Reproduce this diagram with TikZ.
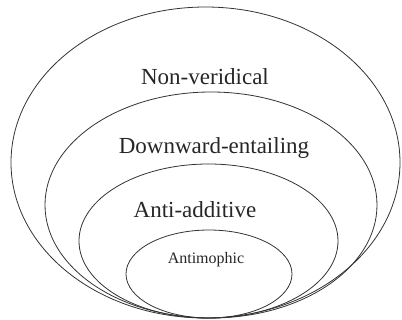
\documentclass[tikz,border=0pt]{standalone}
\usepackage{fontspec}
\setmainfont{Liberation Serif}
\usetikzlibrary{shapes.geometric}
\begin{document}
\begin{tikzpicture}[x=1bp,y=-1bp,
  setoval/.style={ellipse, draw=black!80, line width=0.8bp, inner sep=0pt},
  biglabel/.style={anchor=base, inner sep=0pt, text=black!85, font=\fontsize{23bp}{27bp}\selectfont},
  smalllabel/.style={anchor=base, inner sep=0pt, text=black!85, font=\fontsize{16bp}{19bp}\selectfont}]
\useasboundingbox (0,0) rectangle (402,320);
\node[setoval, minimum width=389bp, minimum height=311bp] (nv) at (205.5,162.5) {};
\node[setoval, minimum width=332bp, minimum height=226bp] (de) at (211,205) {};
\node[setoval, minimum width=259bp, minimum height=154bp] (aa) at (208.5,241) {};
\node[setoval, minimum width=166bp, minimum height=88bp] (am) at (209,274) {};
\node[biglabel] (tnv) at (205,84) {Non-veridical};
\node[biglabel] (tde) at (214,153) {Downward-entailing};
\node[biglabel] (taa) at (195,217) {Anti-additive};
\node[smalllabel] (tam) at (206,263) {Antimophic};
\end{tikzpicture}
\end{document}
